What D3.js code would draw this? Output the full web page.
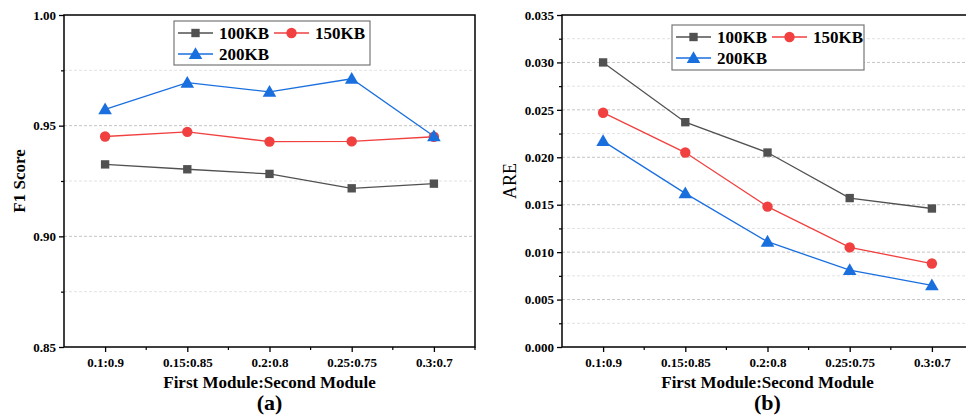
<!DOCTYPE html>
<html>
<head>
<meta charset="utf-8">
<script src="https://cdn.jsdelivr.net/npm/d3@7"></script>
<style>
  body { margin: 0; background: #fff; }
  svg text { font-family: "Times New Roman", "Liberation Serif", "DejaVu Serif", serif !important; }
</style>
</head>
<body>
<div id="chart"></div>
<script>
// categories on x
var ratios = ["0.1:0.9", "0.15:0.85", "0.2:0.8", "0.25:0.75", "0.3:0.7"];
var seriesNames = ["100KB", "150KB", "200KB"];

// (a) F1 score
var f1_100 = [0.9325, 0.9303, 0.9282, 0.9217, 0.9238];
var f1_150 = [0.9451, 0.9472, 0.9428, 0.9429, 0.9450];
var f1_200 = [0.9574, 0.9694, 0.9653, 0.9712, 0.9452];
var f1Ticks = [0.85, 0.90, 0.95, 1.00];

// (b) ARE
var are_100 = [0.0300, 0.0237, 0.0205, 0.0157, 0.0146];
var are_150 = [0.0247, 0.0205, 0.0148, 0.0105, 0.0088];
var are_200 = [0.0217, 0.0162, 0.0111, 0.0081, 0.0065];
var areTicks = [0, 0.005, 0.010, 0.015, 0.020, 0.025, 0.030, 0.035];

var colors = ["#515151", "#F14040", "#1A6FDF"];
var shapes = [d3.symbolSquare, d3.symbolCircle, d3.symbolTriangle];
var shapeSize = [70, 85, 80];

var W = 966, H = 415;
var svg = d3.select("#chart").append("svg")
  .attr("width", W).attr("height", H);

function drawPanel(opt) {
  var x = d3.scalePoint().domain(ratios).range([opt.left, opt.right]).padding(0.5);
  var y = d3.scaleLinear().domain(opt.domain).range([opt.bottom, opt.top]);
  var g = svg.append("g");

  // grid lines (major + minor)
  var step = opt.ticks[1] - opt.ticks[0];
  var minor = [];
  for (var i = 0; i < opt.ticks.length - 1; i++) minor.push(opt.ticks[i] + step / 2);

  g.selectAll(".gmaj").data(opt.ticks.slice(1, -1)).enter().append("line")
    .attr("x1", opt.left).attr("x2", opt.right)
    .attr("y1", function(d) { return y(d); }).attr("y2", function(d) { return y(d); })
    .attr("stroke", "#c4c4c4").attr("stroke-width", 1).attr("stroke-dasharray", "3,2");
  g.selectAll(".gmin").data(minor).enter().append("line")
    .attr("x1", opt.left).attr("x2", opt.right)
    .attr("y1", function(d) { return y(d); }).attr("y2", function(d) { return y(d); })
    .attr("stroke", "#e2e2e2").attr("stroke-width", 1).attr("stroke-dasharray", "3,2");

  // y axis
  var yAxis = d3.axisLeft(y).tickValues(opt.ticks).tickFormat(opt.fmt).tickSize(5).tickPadding(3);
  var ya = g.append("g").attr("transform", "translate(" + opt.left + ",0)").call(yAxis);
  ya.attr("font-family", null);
  ya.select(".domain").remove();
  ya.selectAll("line").attr("stroke", "#000").attr("stroke-width", 1.3);
  ya.selectAll("text").attr("font-size", 13).attr("font-weight", "bold").attr("fill", "#000");
  g.append("g").attr("transform", "translate(" + opt.left + ",0)")
    .call(d3.axisLeft(y).tickValues(minor).tickFormat("").tickSize(3))
    .call(function(s) { s.select(".domain").remove(); s.selectAll("line").attr("stroke", "#000").attr("stroke-width", 1.2); });

  // x axis
  var xAxis = d3.axisBottom(x).tickSize(5).tickPadding(6);
  var xa = g.append("g").attr("transform", "translate(0," + opt.bottom + ")").call(xAxis);
  xa.attr("font-family", null);
  xa.select(".domain").remove();
  xa.selectAll("line").attr("stroke", "#000").attr("stroke-width", 1.3);
  xa.selectAll("text").attr("font-size", 13).attr("font-weight", "bold").attr("fill", "#000");
  var half = x.step() / 2;
  g.selectAll(".xminor").data(ratios).enter().append("line")
    .attr("x1", function(d) { return x(d) + half; }).attr("x2", function(d) { return x(d) + half; })
    .attr("y1", opt.bottom).attr("y2", opt.bottom + 3)
    .attr("stroke", "#000").attr("stroke-width", 1.2);

  // frame
  g.append("rect").attr("x", opt.left).attr("y", opt.top)
    .attr("width", opt.right - opt.left).attr("height", opt.bottom - opt.top)
    .attr("fill", "none").attr("stroke", "#000").attr("stroke-width", 1.5);

  // series
  var line = d3.line().x(function(d, i) { return x(ratios[i]); }).y(function(d) { return y(d); });
  opt.series.forEach(function(vals, k) {
    g.append("path").datum(vals).attr("d", line)
      .attr("fill", "none").attr("stroke", colors[k]).attr("stroke-width", 1.3);
    g.selectAll(".m" + k).data(vals).enter().append("path")
      .attr("d", d3.symbol().type(shapes[k]).size(shapeSize[k]))
      .attr("transform", function(d, i) {
        var dy = k == 2 ? 1 : 0;
        return "translate(" + x(ratios[i]) + "," + (y(d) + dy) + ")";
      })
      .attr("fill", colors[k]);
  });

  // legend
  var L = opt.legend;
  g.append("rect").attr("x", L.x).attr("y", L.y).attr("width", L.w).attr("height", L.h)
    .attr("fill", "#fff").attr("stroke", "#777").attr("stroke-width", 1.2);
  var entries = [
    { k: 0, x: L.x + 4, y: L.y + 12 },
    { k: 1, x: L.x + 100, y: L.y + 12 },
    { k: 2, x: L.x + 4, y: L.y + 33 }
  ];
  entries.forEach(function(e) {
    g.append("line").attr("x1", e.x).attr("x2", e.x + 35).attr("y1", e.y).attr("y2", e.y)
      .attr("stroke", colors[e.k]).attr("stroke-width", 1.3);
    g.append("path").attr("d", d3.symbol().type(shapes[e.k]).size(shapeSize[e.k]))
      .attr("transform", "translate(" + (e.x + 17.5) + "," + (e.y + (e.k == 2 ? 1 : 0)) + ")")
      .attr("fill", colors[e.k]);
    g.append("text").attr("x", e.x + 41).attr("y", e.y).attr("dy", "0.35em")
      .attr("font-size", 17).attr("font-weight", "bold").attr("fill", "#000")
      .text(seriesNames[e.k]);
  });

  // axis titles
  var mid = (x(ratios[0]) + x(ratios[4])) / 2;
  g.append("text").attr("x", mid).attr("y", opt.bottom + 41)
    .attr("text-anchor", "middle").attr("font-size", 17).attr("font-weight", "bold")
    .text("First Module:Second Module");
  g.append("text").attr("x", mid).attr("y", opt.bottom + 63)
    .attr("text-anchor", "middle").attr("font-size", 22).attr("font-weight", "bold")
    .text(opt.label);
  g.append("text")
    .attr("transform", "translate(" + opt.ytx + "," + ((opt.top + opt.bottom) / 2) + ") rotate(-90)")
    .attr("text-anchor", "middle").attr("dy", "0.35em")
    .attr("font-size", opt.ytSize).attr("font-weight", opt.ytWeight)
    .text(opt.ytitle);
}

drawPanel({
  id: "a", left: 64, right: 475, top: 15, bottom: 347,
  domain: [0.85, 1.00], ticks: f1Ticks, fmt: d3.format(".2f"),
  series: [f1_100, f1_150, f1_200],
  legend: { x: 174, y: 21, w: 196, h: 44 },
  label: "(a)", ytitle: "F1 Score", ytx: 19, ytSize: 17, ytWeight: "bold"
});

drawPanel({
  id: "b", left: 562, right: 973, top: 15, bottom: 347,
  domain: [0, 0.035], ticks: areTicks, fmt: d3.format(".3f"),
  series: [are_100, are_150, are_200],
  legend: { x: 672, y: 25, w: 192, h: 45 },
  label: "(b)", ytitle: "ARE", ytx: 510, ytSize: 18, ytWeight: "normal"
});
</script>
</body>
</html>
